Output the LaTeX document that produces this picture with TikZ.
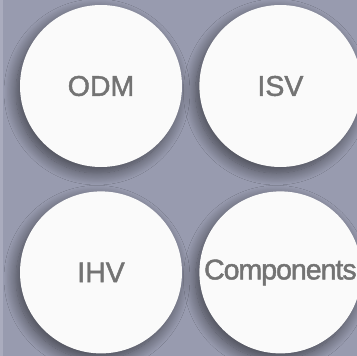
\documentclass[tikz,border=0pt]{standalone}
\usepackage{fontspec}
\setmainfont{Liberation Sans}
\newfontfamily\labelfont{Liberation Sans}[FakeBold=1.6]
\usepackage{tikz}
\usetikzlibrary{positioning, shadows.blur}
\definecolor{backdrop}{RGB}{152, 155, 175}
\definecolor{edgestrip}{RGB}{170, 172, 190}
\definecolor{labelgray}{RGB}{115, 115, 115}
\definecolor{disc}{RGB}{250, 250, 250}

\begin{document}
\begin{tikzpicture}[
    node distance=24pt and 17pt,
    every node/.style={font=\labelfont\fontsize{28.5}{30}\selectfont, text=labelgray},
    party/.style={circle, fill=disc, minimum size=162pt, inner sep=0pt,
        blur shadow={shadow xshift=-4pt, shadow yshift=-6pt, shadow blur radius=12pt, shadow blur steps=16, shadow opacity=55}}
]
    % Backdrop
    \fill[backdrop] (0,0) rectangle (357pt,-356pt);
    \fill[edgestrip] (0,0) rectangle (3pt,-356pt);
    \useasboundingbox (0,0) rectangle (357pt,-356pt);

    % Nodes
    \node (odm) [party] at (101pt,-86pt) {ODM};
    \node (isv) [party, right=of odm] {ISV};
    \node (ihv) [party, below=of odm] {IHV};
    \node (comp) [party, right=of ihv, font=\labelfont\fontsize{28.5}{30}\selectfont\addfontfeatures{LetterSpace=-3.5}] {Components};
\end{tikzpicture}
\end{document}
